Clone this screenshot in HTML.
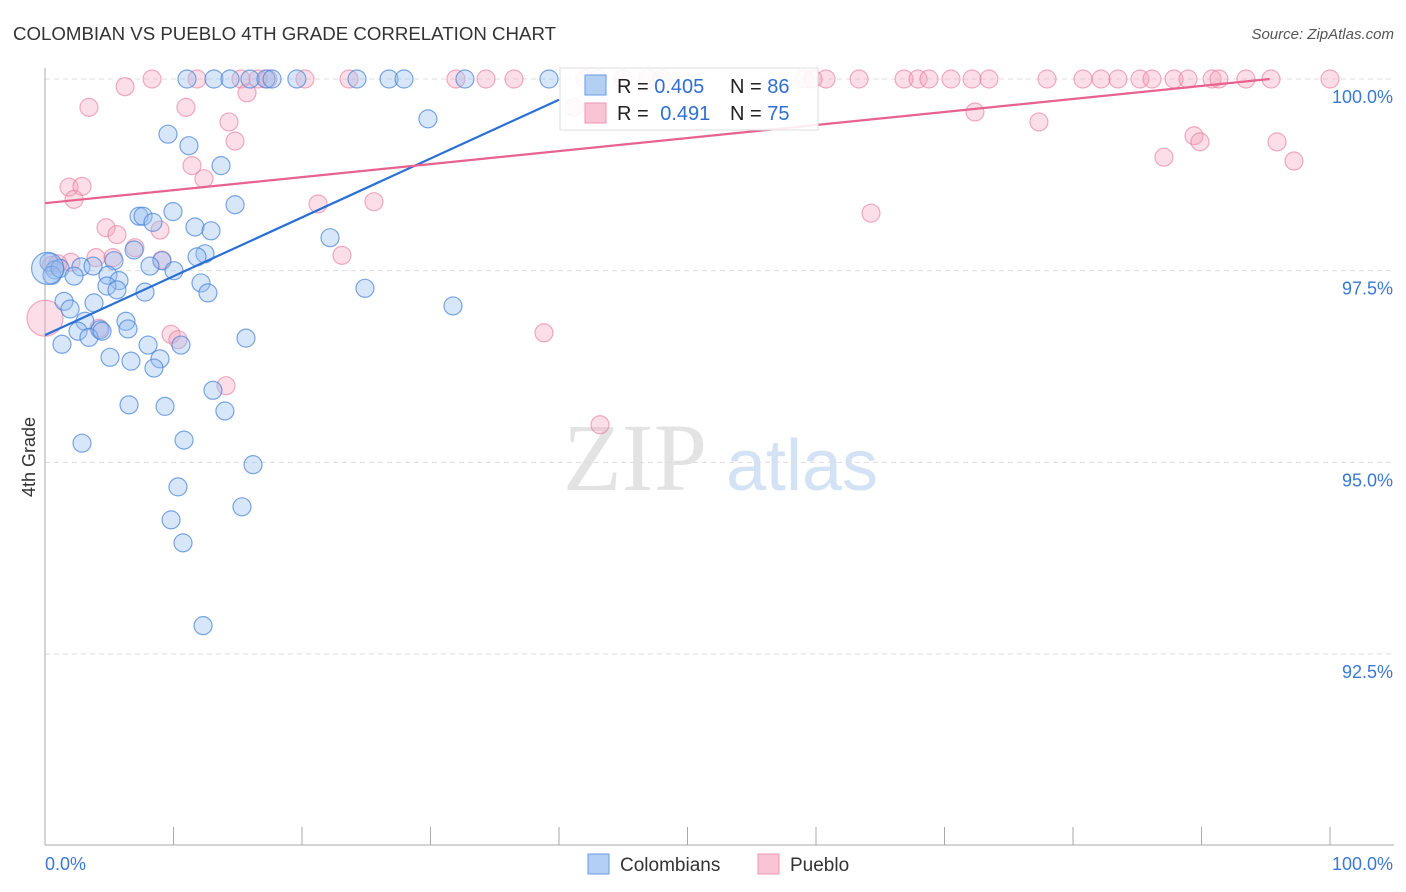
<!DOCTYPE html>
<html><head><meta charset="utf-8">
<style>
body{margin:0;background:#fff;font-family:"Liberation Sans",sans-serif;}
#wrap{position:relative;width:1406px;height:892px;overflow:hidden;}
</style></head>
<body>
<div id="wrap">
<svg id="chart" width="1406" height="892">
  <text x="13" y="40" font-size="18" fill="#333" textLength="543" lengthAdjust="spacingAndGlyphs">COLOMBIAN VS PUEBLO 4TH GRADE CORRELATION CHART</text>
  <text x="1394" y="39" font-size="15" fill="#555" text-anchor="end" font-style="italic">Source: ZipAtlas.com</text>
  <text x="35" y="457" font-size="18" fill="#333" text-anchor="middle" transform="rotate(-90 35 457)">4th Grade</text>
  <g>
    <text x="635" y="490" font-size="96" fill="#ddd" text-anchor="middle" font-family="Liberation Serif,serif" opacity="0.8">ZIP</text>
    <text x="802" y="490" font-size="72" fill="#c9dbf2" text-anchor="middle" opacity="0.8">atlas</text>
  </g>
  <g id="grid"></g>
  <g id="axes"></g>
  <g id="pts"></g>
  <g id="lines"></g>
  <g>
    <rect x="560" y="68" width="258" height="62" fill="#fff" fill-opacity="0.88" stroke="#ddd"/>
    <rect x="585" y="75" width="21" height="20" fill="#b3cff3" stroke="#6b9be0"/>
    <rect x="585" y="103" width="21" height="20" fill="#f9c4d3" stroke="#ee94b0"/>
    <text x="617" y="93" font-size="20" fill="#222">R = <tspan fill="#2f6fd0">0.405</tspan></text>
    <text x="730" y="93" font-size="20" fill="#222">N = <tspan fill="#2f6fd0">86</tspan></text>
    <text x="617" y="120" font-size="20" fill="#222">R = <tspan fill="#2f6fd0" dx="6">0.491</tspan></text>
    <text x="730" y="120" font-size="20" fill="#222">N = <tspan fill="#2f6fd0">75</tspan></text>
  </g>
  <g>
    <rect x="588" y="854" width="21" height="20" fill="#b3cff3" stroke="#6b9be0"/>
    <text x="620" y="871" font-size="19" fill="#333">Colombians</text>
    <rect x="758" y="854" width="21" height="20" fill="#f9c4d3" stroke="#ee94b0"/>
    <text x="790" y="871" font-size="19" fill="#333">Pueblo</text>
  </g>
</svg>
</div>
<script>
const yTicks=[100,97.5,95,92.5];
const yTickLabels=["100.0%","97.5%","95.0%","92.5%"];
const blueX=[11.05,13.15,14.4,15.95,17.2,17.67,19.6,24.28,26.77,27.94,32.68,39.22,29.8,9.57,11.2,13.7,14.79,9.96,7.32,7.63,8.4,11.67,12.92,22.18,6.93,12.45,11.83,9.1,5.37,8.17,2.8,3.74,0.31,0.78,0.54,1.17,2.26,4.9,5.76,4.82,5.6,7.78,10.04,12.14,12.68,24.9,31.75,1.48,1.95,3.81,3.11,6.3,2.57,6.46,4.28,3.42,4.44,1.32,8.02,10.58,15.64,5.06,6.69,8.95,8.48,13.07,6.54,9.34,14.0,2.88,10.82,16.19,10.35,15.33,9.81,10.74,12.3,0.2];
const blueY=[100,100,100,100,100,100,100,100,100,100,100,100,99.48,99.28,99.13,98.87,98.36,98.27,98.21,98.21,98.13,98.07,98.02,97.93,97.77,97.72,97.68,97.63,97.63,97.56,97.55,97.56,97.61,97.51,97.44,97.53,97.43,97.44,97.37,97.3,97.25,97.22,97.5,97.34,97.21,97.27,97.04,97.1,97.0,97.08,96.84,96.84,96.71,96.74,96.73,96.63,96.71,96.54,96.53,96.53,96.62,96.37,96.32,96.35,96.23,95.94,95.75,95.73,95.67,95.25,95.29,94.97,94.68,94.42,94.25,93.95,92.87,97.53];
const pinkX=[8.33,11.83,15.25,16.58,17.35,20.23,23.66,31.98,34.32,36.5,42.02,43.04,44.98,46.93,48.02,59.07,59.77,60.78,63.35,66.85,67.94,68.79,70.51,72.14,73.46,77.98,80.78,82.18,83.5,85.21,86.15,87.86,88.95,90.82,91.36,93.46,95.41,100.0,6.23,3.42,10.97,15.72,14.32,14.79,11.44,12.37,1.87,2.88,2.26,21.25,25.6,64.28,4.75,5.6,8.95,7.0,23.11,3.97,5.29,9.1,2.02,1.0,0.5,0,9.81,10.35,4.2,14.09,38.83,43.19,41.17,72.37,77.35,87.08,89.42,89.88,95.88,97.2];
const pinkY=[100,100,100,100,100,100,100,100,100,100,100,100,100,100,100,100,100,100,100,100,100,100,100,100,100,100,100,100,100,100,100,100,100,100,100,100,100,100,99.9,99.63,99.63,99.82,99.44,99.19,98.87,98.7,98.59,98.6,98.43,98.37,98.4,98.25,98.06,97.97,98.03,97.8,97.7,97.67,97.67,97.64,97.61,97.59,97.57,96.88,96.67,96.6,96.75,96.0,96.69,95.49,99.63,99.57,99.44,98.98,99.26,99.18,99.18,98.93];
const blueLineX=[0,40];
const blueLineY=[96.66,99.73];
const pinkLineX=[0,95.3];
const pinkLineY=[98.38,100];
const NS="http://www.w3.org/2000/svg";
function sx(v){return 45+v*12.85;}
function sy(v){return 79+(100-v)*76.67;}
function mk(tag,attrs,parent){const e=document.createElementNS(NS,tag);for(const k in attrs)e.setAttribute(k,attrs[k]);document.getElementById(parent).appendChild(e);return e;}
yTicks.forEach((t,i)=>{
  const g=mk('line',{x1:45,x2:1394,y1:sy(t),y2:sy(t),stroke:'#ddd','stroke-dasharray':'5,4'},'grid');
  
  
  const l=mk('text',{x:1393,y:sy(t)+24,'font-size':18,fill:'#3a78d4','text-anchor':'end'},'axes');
  l.textContent=yTickLabels[i];
  
  
});
const ax=mk('line',{x1:45,x2:45,y1:68,y2:845,stroke:'#aaa'},'axes');


const bx=mk('line',{x1:45,x2:1394,y1:845,y2:845,stroke:'#aaa'},'axes');


for(let i=0;i<=10;i++){
  const t=mk('line',{x1:sx(i*10),x2:sx(i*10),y1:827,y2:845,stroke:'#aaa'},'axes');
  
  
}
const x0=mk('text',{x:45,y:870,'font-size':18,fill:'#3a78d4'},'axes');x0.textContent='0.0%';


const x1=mk('text',{x:1393,y:870,'font-size':18,fill:'#3a78d4','text-anchor':'end'},'axes');x1.textContent='100.0%';


pinkX.forEach((v,i)=>{
  const c=mk('circle',{cx:sx(v),cy:sy(pinkY[i]),r:(v===0?18:9),fill:'rgba(244,160,186,0.35)',stroke:'rgba(232,120,155,0.6)','stroke-width':1.2},'pts');
  
  
});
blueX.forEach((v,i)=>{
  const c=mk('circle',{cx:sx(v),cy:sy(blueY[i]),r:(i===blueX.length-1?16:9),fill:'rgba(150,190,240,0.38)',stroke:'rgba(70,130,215,0.7)','stroke-width':1.2},'pts');
  
  
});
const bl=mk('line',{x1:sx(blueLineX[0]),y1:sy(blueLineY[0]),x2:sx(blueLineX[1]),y2:sy(blueLineY[1]),stroke:'#2a6fd6','stroke-width':2.2},'lines');


const pl=mk('line',{x1:sx(pinkLineX[0]),y1:sy(pinkLineY[0]),x2:sx(pinkLineX[1]),y2:sy(pinkLineY[1]),stroke:'#e8628e','stroke-width':2.2},'lines');


</script>
</body></html>
